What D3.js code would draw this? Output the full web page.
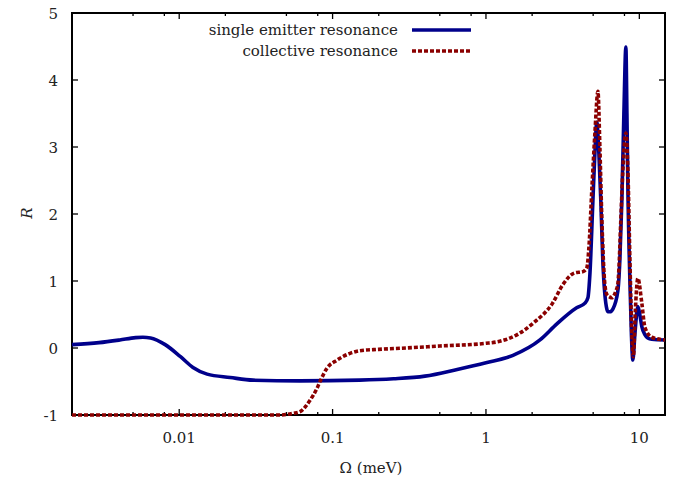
<!DOCTYPE html>
<html>
<head>
<meta charset="utf-8">
<script src="https://cdn.jsdelivr.net/npm/d3@7"></script>
<style>
  body { margin: 0; background: #fff; }
</style>
</head>
<body>
<svg id="chart" width="676" height="483"></svg>
<script>
// single emitter resonance (Omega in meV, R)
var singleX = [0.002, 0.003, 0.0041, 0.0052, 0.0058, 0.0065, 0.0081, 0.0102, 0.0123, 0.0152,
  0.0215, 0.0303, 0.061, 0.15, 0.25, 0.4, 0.65, 1.0, 1.5, 2.25, 2.9, 3.9, 4.42, 4.62, 4.76,
  4.98, 5.13, 5.28, 5.45, 5.61, 5.78, 5.96, 6.14, 6.24, 6.43, 6.72, 7.24, 7.46, 7.69, 7.93,
  8.17, 8.30, 8.42, 8.68, 8.88, 9.07, 9.35, 9.64, 9.78, 10.07, 10.38, 10.87, 11.36, 12.05, 14.7];
var singleR = [0.05, 0.08, 0.12, 0.155, 0.16, 0.15, 0.05, -0.13, -0.29, -0.39,
  -0.44, -0.48, -0.49, -0.48, -0.46, -0.42, -0.32, -0.22, -0.11, 0.12, 0.36, 0.60, 0.67, 0.75, 1.1,
  2.2, 2.9, 3.37, 2.9, 2.2, 1.3, 0.8, 0.58, 0.54, 0.54, 0.58, 0.85, 1.3, 2.2, 3.5,
  4.49, 3.5, 2.4, 1.0, 0.2, -0.18, 0.2, 0.55, 0.62, 0.5, 0.32, 0.2, 0.15, 0.13, 0.12];

// collective resonance
var collX = [0.002, 0.02, 0.0455, 0.0553, 0.0614, 0.0713, 0.0792, 0.0828, 0.092, 0.107,
  0.13, 0.151, 0.2, 0.3, 0.5, 1.0, 1.23, 1.6, 2.03, 2.72, 3.16, 3.78, 4.29, 4.55, 4.69,
  4.91, 5.13, 5.37, 5.53, 5.70, 5.96, 6.14, 6.43, 6.62, 7.03, 7.24, 7.35, 7.57, 7.81, 8.17,
  8.42, 8.68, 8.94, 9.14, 9.42, 9.78, 10.38, 10.87, 12.05, 14.7];
var collR = [-1, -1, -1, -0.975, -0.95, -0.78, -0.6, -0.5, -0.3, -0.18,
  -0.08, -0.04, -0.02, 0.0, 0.03, 0.07, 0.1, 0.2, 0.37, 0.67, 0.94, 1.12, 1.14, 1.2, 1.5,
  2.4, 3.2, 3.83, 3.0, 1.9, 0.95, 0.8, 0.76, 0.75, 0.85, 0.95, 1.16, 1.9, 2.66, 3.21,
  2.66, 1.31, 0.2, -0.13, 0.57, 1.04, 0.67, 0.31, 0.16, 0.12];

var xTicks = [0.01, 0.1, 1, 10];
var xTickLabels = ["0.01", "0.1", "1", "10"];
var xMinorTicks = [0.005, 0.008, 0.02, 0.05, 0.08, 0.2, 0.5, 0.8, 2, 5, 8];
var yTicks = [-1, 0, 1, 2, 3, 4, 5];

var FONT = "'DejaVu Serif', serif";
var margin = {top: 13, right: 11, bottom: 68, left: 72};
var W = 676, H = 483;
var w = W - margin.left - margin.right, h = H - margin.top - margin.bottom;

var svg = d3.select("#chart");
var g = svg.append("g").attr("transform", "translate(" + margin.left + "," + margin.top + ")");

var x = d3.scaleLog().domain([0.002, 14.7]).range([0, w]);
var y = d3.scaleLinear().domain([-1, 5]).range([h, 0]);

// ticks on all four sides (mirrored)
function tickLines(vals, len, isX) {
  vals.forEach(function(v) {
    if (isX) {
      var px = x(v);
      g.append("line").attr("x1", px).attr("x2", px).attr("y1", h).attr("y2", h - len)
        .attr("stroke", "#000").attr("stroke-width", 1.3);
      g.append("line").attr("x1", px).attr("x2", px).attr("y1", 0).attr("y2", len)
        .attr("stroke", "#000").attr("stroke-width", 1.3);
    } else {
      var py = y(v);
      g.append("line").attr("x1", 0).attr("x2", len).attr("y1", py).attr("y2", py)
        .attr("stroke", "#000").attr("stroke-width", 1.3);
      g.append("line").attr("x1", w).attr("x2", w - len).attr("y1", py).attr("y2", py)
        .attr("stroke", "#000").attr("stroke-width", 1.3);
    }
  });
}
tickLines(xTicks, 6, true);
tickLines(xMinorTicks, 3, true);
tickLines(yTicks, 6, false);

function label(sel) {
  return sel.style("font-family", FONT).style("font-size", "15px").attr("fill", "#222");
}

label(g.selectAll("text.xt").data(xTicks).enter().append("text"))
  .attr("x", function(d) { return x(d); }).attr("y", h + 28)
  .attr("text-anchor", "middle")
  .text(function(d, i) { return xTickLabels[i]; });

label(g.selectAll("text.yt").data(yTicks).enter().append("text"))
  .attr("x", -14).attr("y", function(d) { return y(d) + 5.5; })
  .attr("text-anchor", "end")
  .text(function(d) { return d; });

// frame
g.append("rect").attr("width", w).attr("height", h)
  .attr("fill", "none").attr("stroke", "#000").attr("stroke-width", 2);

// curves, drawn over the frame like the original
var line = d3.line()
  .x(function(d) { return x(d[0]); })
  .y(function(d) { return y(d[1]); })
  .curve(d3.curveMonotoneX);

var single = d3.zip(singleX, singleR);
var coll = d3.zip(collX, collR);

g.append("path").datum(single)
  .attr("d", line).attr("fill", "none")
  .attr("stroke", "#00008b").attr("stroke-width", 3.6).attr("stroke-linejoin", "round");

g.append("path").datum(coll)
  .attr("d", line).attr("fill", "none")
  .attr("stroke", "#8b0000").attr("stroke-width", 3.6).attr("stroke-dasharray", "4,2");

// legend
var legend = [
  {label: "single emitter resonance", color: "#00008b", dash: null, y: 17},
  {label: "collective resonance", color: "#8b0000", dash: "4,2", y: 38}
];
legend.forEach(function(l) {
  label(g.append("text")).attr("x", 326).attr("y", l.y + 5).attr("text-anchor", "end")
    .text(l.label);
  g.append("line").attr("x1", 340).attr("x2", 399).attr("y1", l.y).attr("y2", l.y)
    .attr("stroke", l.color).attr("stroke-width", 3.6)
    .attr("stroke-dasharray", l.dash);
});

// axis labels
label(svg.append("text")).attr("x", 371).attr("y", 473).attr("text-anchor", "middle")
  .text("Ω (meV)");
label(svg.append("text")).attr("transform", "translate(32,213) rotate(-90)")
  .attr("text-anchor", "middle").style("font-style", "italic")
  .text("R");
</script>
</body>
</html>
